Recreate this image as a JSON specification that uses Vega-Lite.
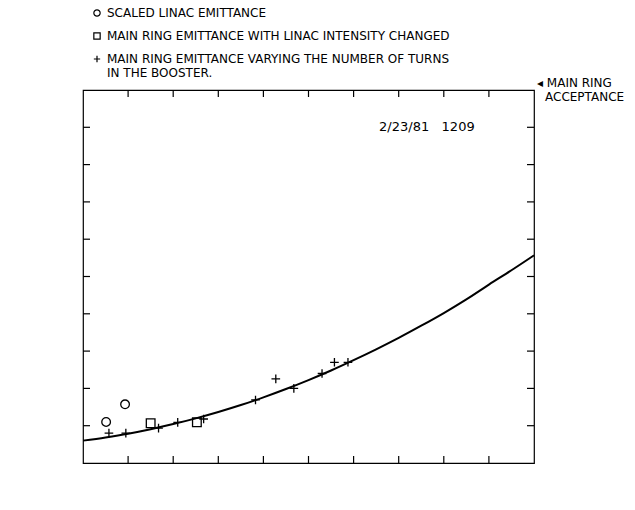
{
  "$schema": "https://vega.github.io/schema/vega-lite/v6.json",
  "autosize": "none",
  "padding": {"left": 83, "top": 90, "right": 101, "bottom": 47},
  "width": 451,
  "height": 373,
  "background": "white",
  "config": {
    "view": {"stroke": "black", "strokeWidth": 1.2},
    "font": "DejaVu Sans",
    "axis": {"labelColor": "black", "titleColor": "black", "labelFont": "DejaVu Sans", "titleFont": "DejaVu Sans", "titleFontWeight": "normal", "grid": false, "ticks": false, "domain": false, "labelOverlap": false}
  },
  "datasets": {
    "points": [
      {"series": "SCALED LINAC EMITTANCE", "x": 0.205, "y": 0.33},
      {"series": "SCALED LINAC EMITTANCE", "x": 0.373, "y": 0.472},
      {"series": "MAIN RING EMITTANCE WITH LINAC INTENSITY CHANGED", "x": 0.60, "y": 0.32},
      {"series": "MAIN RING EMITTANCE WITH LINAC INTENSITY CHANGED", "x": 1.01, "y": 0.327},
      {"series": "MAIN RING EMITTANCE VARYING THE NUMBER OF TURNS\nIN THE BOOSTER.", "x": 0.23, "y": 0.24},
      {"series": "MAIN RING EMITTANCE VARYING THE NUMBER OF TURNS\nIN THE BOOSTER.", "x": 0.38, "y": 0.24},
      {"series": "MAIN RING EMITTANCE VARYING THE NUMBER OF TURNS\nIN THE BOOSTER.", "x": 0.67, "y": 0.28},
      {"series": "MAIN RING EMITTANCE VARYING THE NUMBER OF TURNS\nIN THE BOOSTER.", "x": 0.84, "y": 0.327},
      {"series": "MAIN RING EMITTANCE VARYING THE NUMBER OF TURNS\nIN THE BOOSTER.", "x": 1.07, "y": 0.354},
      {"series": "MAIN RING EMITTANCE VARYING THE NUMBER OF TURNS\nIN THE BOOSTER.", "x": 1.53, "y": 0.507},
      {"series": "MAIN RING EMITTANCE VARYING THE NUMBER OF TURNS\nIN THE BOOSTER.", "x": 1.71, "y": 0.676},
      {"series": "MAIN RING EMITTANCE VARYING THE NUMBER OF TURNS\nIN THE BOOSTER.", "x": 1.87, "y": 0.60},
      {"series": "MAIN RING EMITTANCE VARYING THE NUMBER OF TURNS\nIN THE BOOSTER.", "x": 2.12, "y": 0.72},
      {"series": "MAIN RING EMITTANCE VARYING THE NUMBER OF TURNS\nIN THE BOOSTER.", "x": 2.23, "y": 0.81},
      {"series": "MAIN RING EMITTANCE VARYING THE NUMBER OF TURNS\nIN THE BOOSTER.", "x": 2.35, "y": 0.81}
    ],
    "curve": [
      {"x": 0.0, "y": 0.18}, {"x": 0.2, "y": 0.206}, {"x": 0.4, "y": 0.236}, {"x": 0.6, "y": 0.272},
      {"x": 0.8, "y": 0.313}, {"x": 1.0, "y": 0.359}, {"x": 1.2, "y": 0.41}, {"x": 1.4, "y": 0.466},
      {"x": 1.6, "y": 0.528}, {"x": 1.8, "y": 0.595}, {"x": 2.0, "y": 0.667}, {"x": 2.2, "y": 0.744},
      {"x": 2.4, "y": 0.827}, {"x": 2.6, "y": 0.914}, {"x": 2.8, "y": 1.006}, {"x": 3.0, "y": 1.104},
      {"x": 3.2, "y": 1.206}, {"x": 3.4, "y": 1.316}, {"x": 3.6, "y": 1.435}, {"x": 3.8, "y": 1.55},
      {"x": 4.0, "y": 1.67}
    ],
    "xticks": [{"v": 0.4}, {"v": 0.8}, {"v": 1.2}, {"v": 1.6}, {"v": 2.0}, {"v": 2.4}, {"v": 2.8}, {"v": 3.2}, {"v": 3.6}],
    "yticks": [{"v": 0.3}, {"v": 0.6}, {"v": 0.9}, {"v": 1.2}, {"v": 1.5}, {"v": 1.8}, {"v": 2.1}, {"v": 2.4}, {"v": 2.7}],
    "notes": [
      {"x": 3.05, "y": 2.7, "text": "2/23/81\u00a0\u00a0\u00a01209"}
    ],
    "accept": [
      {"x": 4.0, "y": 3.0, "line1": "◂ MAIN RING", "line2": "ACCEPTANCE"}
    ]
  },
  "layer": [
    {
      "data": {"name": "curve"},
      "mark": {"type": "line", "color": "black", "strokeWidth": 2, "interpolate": "monotone"},
      "encoding": {
        "x": {"field": "x", "type": "quantitative", "scale": {"domain": [0, 4], "nice": false},
          "axis": {"orient": "bottom", "values": [0, 0.4, 0.8, 1.2, 1.6, 2, 2.4, 2.8, 3.2, 3.6, 4], "format": "~g",
            "labelExpr": "datum.value > 0 && datum.value < 1 ? substring(datum.label, 1) : datum.label",
            "labelPadding": 9, "labelFontSize": 12, "labelFlush": false, "labelOverlap": false,
            "title": "BOOSTER BATCH INTENSITY ∼ 10¹²", "titleFontSize": 13.5, "titleAnchor": "start", "titleX": 25, "titlePadding": 8}},
        "y": {"field": "y", "type": "quantitative", "scale": {"domain": [0, 3], "nice": false},
          "axis": {"orient": "left", "values": [0, 0.3, 0.6, 0.9, 1.2, 1.5, 1.8, 2.1, 2.4, 2.7, 3], "format": "~g",
            "labelExpr": "datum.value > 0 && datum.value < 1 ? substring(datum.label, 1) : datum.label",
            "labelPadding": 16, "labelFontSize": 12, "labelFlush": false, "labelOverlap": false,
            "title": "ℰH (π mm mrad)", "titleFontSize": 12, "titlePadding": 18, "titleY": 172}}
      }
    },
    {
      "data": {"name": "xticks"},
      "mark": {"type": "tick", "orient": "vertical", "size": 14, "thickness": 1.2, "color": "black", "opacity": 1, "clip": true},
      "encoding": {
        "x": {"field": "v", "type": "quantitative", "axis": null},
        "y": {"datum": 0, "type": "quantitative", "axis": null}
      }
    },
    {
      "data": {"name": "xticks"},
      "mark": {"type": "tick", "orient": "vertical", "size": 14, "thickness": 1.2, "color": "black", "opacity": 1, "clip": true},
      "encoding": {
        "x": {"field": "v", "type": "quantitative", "axis": null},
        "y": {"datum": 3, "type": "quantitative", "axis": null}
      }
    },
    {
      "data": {"name": "yticks"},
      "mark": {"type": "tick", "orient": "horizontal", "size": 14, "thickness": 1.2, "color": "black", "opacity": 1, "clip": true},
      "encoding": {
        "y": {"field": "v", "type": "quantitative", "axis": null},
        "x": {"datum": 0, "type": "quantitative", "axis": null}
      }
    },
    {
      "data": {"name": "yticks"},
      "mark": {"type": "tick", "orient": "horizontal", "size": 14, "thickness": 1.2, "color": "black", "opacity": 1, "clip": true},
      "encoding": {
        "y": {"field": "v", "type": "quantitative", "axis": null},
        "x": {"datum": 4, "type": "quantitative", "axis": null}
      }
    },
    {
      "data": {"name": "points"},
      "mark": {"type": "point", "filled": false, "strokeWidth": 1.3, "size": 75, "color": "black", "opacity": 1},
      "encoding": {
        "x": {"field": "x", "type": "quantitative", "axis": null},
        "y": {"field": "y", "type": "quantitative", "axis": null},
        "shape": {"field": "series", "type": "nominal",
          "scale": {"domain": ["SCALED LINAC EMITTANCE", "MAIN RING EMITTANCE WITH LINAC INTENSITY CHANGED", "MAIN RING EMITTANCE VARYING THE NUMBER OF TURNS\nIN THE BOOSTER."],
            "range": ["circle", "square", "M-1,0H1M0,-1V1"]},
          "legend": {"orient": "none", "legendX": 8, "legendY": -83, "title": null, "labelFontSize": 12, "labelFont": "DejaVu Sans", "labelColor": "black", "labelLimit": 0, "symbolSize": 40, "symbolStrokeWidth": 1.2, "symbolStrokeColor": "black", "symbolFillColor": "transparent", "rowPadding": 11, "labelOffset": 4,
            "labelExpr": "split(datum.label, '\\n')"}}
      }
    },
    {
      "data": {"name": "notes"},
      "mark": {"type": "text", "fontSize": 13, "font": "DejaVu Sans", "color": "black", "align": "center", "baseline": "middle"},
      "encoding": {
        "x": {"field": "x", "type": "quantitative", "axis": null},
        "y": {"field": "y", "type": "quantitative", "axis": null},
        "text": {"field": "text"}
      }
    },
    {
      "data": {"name": "accept"},
      "mark": {"type": "text", "fontSize": 12, "font": "DejaVu Sans", "color": "black", "align": "left", "baseline": "middle", "dx": 3, "dy": -7, "clip": false},
      "encoding": {
        "x": {"field": "x", "type": "quantitative", "axis": null},
        "y": {"field": "y", "type": "quantitative", "axis": null},
        "text": {"field": "line1"}
      }
    },
    {
      "data": {"name": "accept"},
      "mark": {"type": "text", "fontSize": 12, "font": "DejaVu Sans", "color": "black", "align": "left", "baseline": "middle", "dx": 11, "dy": 7, "clip": false},
      "encoding": {
        "x": {"field": "x", "type": "quantitative", "axis": null},
        "y": {"field": "y", "type": "quantitative", "axis": null},
        "text": {"field": "line2"}
      }
    }
  ]
}
